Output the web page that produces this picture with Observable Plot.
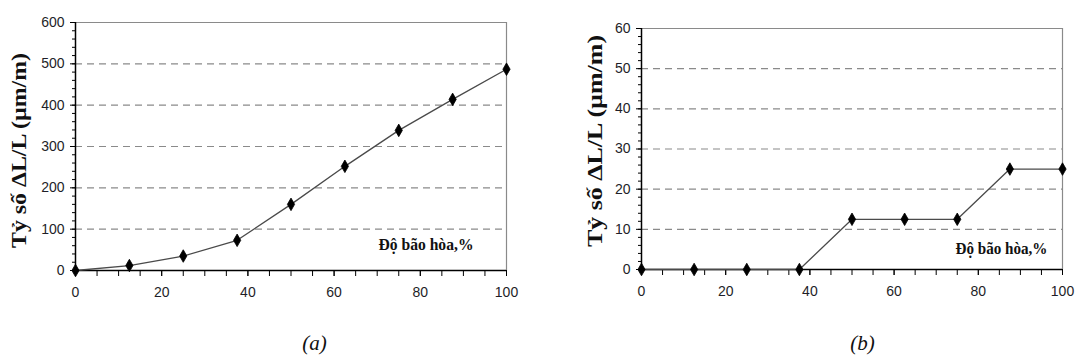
<!DOCTYPE html>
<html>
<head>
<meta charset="utf-8">
<script src="https://cdn.jsdelivr.net/npm/d3@7"></script>
<script src="https://cdn.jsdelivr.net/npm/@observablehq/plot@0.6"></script>
<style>
  html, body { margin: 0; padding: 0; background: #fff; }
  #wrap { position: relative; width: 1075px; height: 361px; overflow: hidden; }
  #wrap svg { position: absolute; top: 0; }
</style>
</head>
<body>
<div id="wrap"></div>
<script>
// ---- data ----
const saturation = [0, 12.5, 25, 37.5, 50, 62.5, 75, 87.5, 100];
const ratioA = [0, 12, 35, 73, 160, 252, 339, 414, 487];
const ratioB = [0, 0, 0, 0, 12.5, 12.5, 12.5, 25, 25];
const xTickLabels = [0, 20, 40, 60, 80, 100];
const yTicksA = [0, 100, 200, 300, 400, 500, 600];
const yTicksB = [0, 10, 20, 30, 40, 50, 60];
const yLabel = "Tỷ số ΔL/L (µm/m)";
const xLabel = "Độ bão hòa,%";
const captions = ["(a)", "(b)"];

const tickFont = "Liberation Sans, Arial, sans-serif";
const serif = "Liberation Serif, Times New Roman, serif";

function panel(cfg) {
  const rows = saturation.map((x, i) => ({x, y: cfg.values[i]}));
  const ymax = cfg.yTicks[cfg.yTicks.length - 1];
  const step = cfg.yTicks[1] - cfg.yTicks[0];
  const minorY = d3.range(0, ymax + 1e-9, step / 5);
  const minorX = d3.range(0, 100.001, 5);
  const grid = cfg.yTicks.filter(v => v > 0 && v < ymax);
  const svg = Plot.plot({
    width: cfg.width,
    height: 361,
    marginLeft: cfg.ml,
    marginRight: cfg.mr,
    marginTop: cfg.mt,
    marginBottom: cfg.mb,
    style: {fontFamily: tickFont, fontSize: "14px", color: "#1e1e28", background: "#fff", overflow: "visible"},
    x: {domain: [0, 100]},
    y: {domain: [0, ymax]},
    marks: [
      Plot.ruleY(grid, {stroke: "#8a8a8a", strokeWidth: 1.2, strokeDasharray: "7,5"}),
      Plot.ruleY([ymax], {stroke: "#8a8a8a", strokeWidth: 1.2}),
      Plot.ruleX([100], {stroke: "#8a8a8a", strokeWidth: 1.2}),
      Plot.axisX(minorX, {tickSize: 6, text: null, label: null, stroke: "#000"}),
      Plot.axisX(xTickLabels, {tickSize: 6, tickPadding: 11, label: null, fill: "#1e1e28", stroke: "#000"}),
      Plot.axisY(minorY, {tickSize: 3, text: null, label: null, stroke: "#000"}),
      Plot.axisY(cfg.yTicks, {tickSize: 5, tickPadding: 6, label: null, fill: "#1e1e28", stroke: "#000"}),
      Plot.ruleY([0], {stroke: "#000", strokeWidth: 1.5}),
      Plot.ruleX([0], {stroke: "#000", strokeWidth: 1.5}),
      Plot.line(rows, {x: "x", y: "y", stroke: "#4a4a4a", strokeWidth: 1.3}),
      Plot.dot(rows, {x: "x", y: "y", symbol: "diamond", r: 3.8, fill: "#000", stroke: "#000", strokeWidth: 0.8}),
      Plot.text([xLabel], {frameAnchor: "bottom-right", textAnchor: "end", dx: cfg.xlDx, dy: cfg.xlDy,
        fontFamily: serif, fontWeight: "bold", fontSize: 16, fill: "#111"}),
      Plot.text([yLabel], {frameAnchor: "left", textAnchor: "middle", rotate: -90, dx: cfg.ylDx, dy: cfg.ylDy,
        fontFamily: serif, fontWeight: "bold", fontSize: 20, fill: "#111"}),
      Plot.text([cfg.caption], {frameAnchor: "bottom-left", textAnchor: "middle", dx: cfg.capDx, dy: cfg.capDy,
        fontFamily: serif, fontStyle: "italic", fontSize: 21, fill: "#111"})
    ]
  });
  svg.style.left = cfg.left + "px";
  const s = d3.select(svg);
  s.selectAll("text").filter(function() { return this.textContent === yLabel; })
    .attr("textLength", cfg.ylLen).attr("lengthAdjust", "spacingAndGlyphs");
  s.selectAll("text").filter(function() { return this.textContent === xLabel; })
    .attr("textLength", cfg.xlLen).attr("lengthAdjust", "spacingAndGlyphs");
  return svg;
}

const wrap = document.getElementById("wrap");
wrap.appendChild(panel({
  values: ratioA, yTicks: yTicksA, caption: captions[0],
  left: 0, width: 540, ml: 75, mr: 34, mt: 22, mb: 91,
  xlDx: -33, xlDy: -21, xlLen: 95,
  ylDx: -56, ylDy: 4, ylLen: 195,
  capDx: 239, capDy: 79
}));
wrap.appendChild(panel({
  values: ratioB, yTicks: yTicksB, caption: captions[1],
  left: 540, width: 535, ml: 101, mr: 13, mt: 28, mb: 92,
  xlDx: -15, xlDy: -16, xlLen: 92,
  ylDx: -46, ylDy: -8, ylLen: 212,
  capDx: 221, capDy: 80
}));
</script>
</body>
</html>
